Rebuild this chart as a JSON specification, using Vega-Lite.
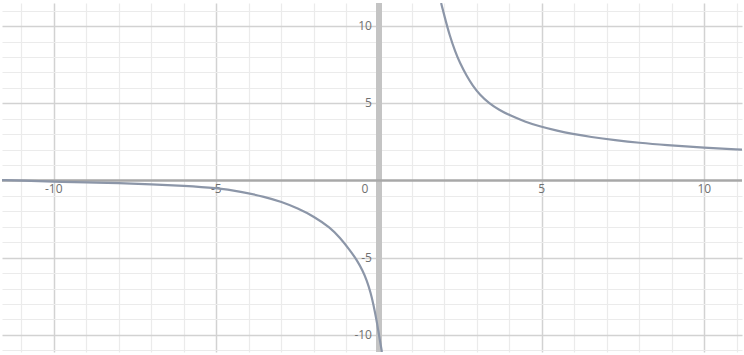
{
  "$schema": "https://vega.github.io/schema/vega-lite/v6.json",
  "width": 744,
  "height": 355,
  "autosize": {"type": "fit", "contains": "padding"},
  "padding": 0,
  "background": "white",
  "config": {"view": {"stroke": null}},
  "datasets": {
    "curve": [
      {"branch": "L", "x": -11.59, "y": 0.03},
      {"branch": "L", "x": -11.0, "y": -0.01},
      {"branch": "L", "x": -10.0, "y": -0.07},
      {"branch": "L", "x": -9.0, "y": -0.12},
      {"branch": "L", "x": -8.0, "y": -0.17},
      {"branch": "L", "x": -7.0, "y": -0.24},
      {"branch": "L", "x": -6.0, "y": -0.34},
      {"branch": "L", "x": -5.0, "y": -0.48},
      {"branch": "L", "x": -4.25, "y": -0.72},
      {"branch": "L", "x": -3.5, "y": -1.06},
      {"branch": "L", "x": -3.0, "y": -1.38},
      {"branch": "L", "x": -2.5, "y": -1.8},
      {"branch": "L", "x": -2.0, "y": -2.33},
      {"branch": "L", "x": -1.5, "y": -3.05},
      {"branch": "L", "x": -1.2, "y": -3.7},
      {"branch": "L", "x": -0.9, "y": -4.5},
      {"branch": "L", "x": -0.68, "y": -5.15},
      {"branch": "L", "x": -0.5, "y": -5.85},
      {"branch": "L", "x": -0.38, "y": -6.45},
      {"branch": "L", "x": -0.25, "y": -7.3},
      {"branch": "L", "x": -0.17, "y": -8.05},
      {"branch": "L", "x": -0.08, "y": -9.0},
      {"branch": "L", "x": -0.02, "y": -9.75},
      {"branch": "L", "x": 0.04, "y": -10.5},
      {"branch": "L", "x": 0.09, "y": -11.11},
      {"branch": "R", "x": 1.91, "y": 11.5},
      {"branch": "R", "x": 2.0, "y": 10.75},
      {"branch": "R", "x": 2.17, "y": 9.4},
      {"branch": "R", "x": 2.35, "y": 8.3},
      {"branch": "R", "x": 2.48, "y": 7.65},
      {"branch": "R", "x": 2.7, "y": 6.75},
      {"branch": "R", "x": 2.88, "y": 6.15},
      {"branch": "R", "x": 3.1, "y": 5.55},
      {"branch": "R", "x": 3.39, "y": 5.0},
      {"branch": "R", "x": 3.7, "y": 4.57},
      {"branch": "R", "x": 4.0, "y": 4.24},
      {"branch": "R", "x": 4.5, "y": 3.8},
      {"branch": "R", "x": 4.92, "y": 3.52},
      {"branch": "R", "x": 5.5, "y": 3.21},
      {"branch": "R", "x": 5.94, "y": 3.02},
      {"branch": "R", "x": 6.5, "y": 2.82},
      {"branch": "R", "x": 7.27, "y": 2.61},
      {"branch": "R", "x": 8.0, "y": 2.44},
      {"branch": "R", "x": 8.8, "y": 2.3},
      {"branch": "R", "x": 10.0, "y": 2.13},
      {"branch": "R", "x": 11.16, "y": 2.0}
    ],
    "axes": [
      {"axis": "x", "v": 0},
      {"axis": "y", "v": 0}
    ],
    "xlabels": [
      {"x": -10, "y": 0, "label": "-10"},
      {"x": -5, "y": 0, "label": "-5"},
      {"x": 5, "y": 0, "label": "5"},
      {"x": 10, "y": 0, "label": "10"}
    ],
    "ylabels": [
      {"x": 0, "y": 10, "label": "10"},
      {"x": 0, "y": 5, "label": "5"},
      {"x": 0, "y": -5, "label": "-5"},
      {"x": 0, "y": -10, "label": "-10"}
    ],
    "zlabel": [
      {"x": 0, "y": 0, "label": "0"}
    ]
  },
  "encoding": {
    "x": {
      "field": "x", "type": "quantitative",
      "scale": {"domain": [-11.59, 11.16], "nice": false, "zero": false},
      "axis": {
        "title": null, "labels": false, "ticks": false, "domain": false,
        "values": [-11,-10,-9,-8,-7,-6,-5,-4,-3,-2,-1,1,2,3,4,5,6,7,8,9,10,11],
        "gridColor": {"condition": {"test": "datum.value % 5 === 0", "value": "#d2d2d2"}, "value": "#ebebeb"},
        "gridWidth": {"condition": {"test": "datum.value % 5 === 0", "value": 1.5}, "value": 1.2}
      }
    },
    "y": {
      "field": "y", "type": "quantitative",
      "scale": {"domain": [-11.11, 11.5], "nice": false, "zero": false},
      "axis": {
        "title": null, "labels": false, "ticks": false, "domain": false,
        "values": [-11,-10,-9,-8,-7,-6,-5,-4,-3,-2,-1,1,2,3,4,5,6,7,8,9,10,11],
        "gridColor": {"condition": {"test": "datum.value % 5 === 0", "value": "#d2d2d2"}, "value": "#ebebeb"},
        "gridWidth": {"condition": {"test": "datum.value % 5 === 0", "value": 1.5}, "value": 1.2}
      }
    }
  },
  "layer": [
    {
      "data": {"name": "axes"},
      "transform": [{"filter": "datum.axis === 'y'"}],
      "mark": {"type": "rule", "color": "#c4c4c4", "strokeWidth": 6},
      "encoding": {"x": {"field": "v", "type": "quantitative"}, "y": null}
    },
    {
      "data": {"name": "axes"},
      "transform": [{"filter": "datum.axis === 'x'"}],
      "mark": {"type": "rule", "color": "#a8a8a8", "strokeWidth": 2.5},
      "encoding": {"y": {"field": "v", "type": "quantitative"}, "x": null}
    },
    {
      "data": {"name": "xlabels"},
      "mark": {"type": "text", "align": "center", "baseline": "middle", "dy": 8, "fontSize": 12, "font": "Open Sans", "color": "#707070"},
      "encoding": {"text": {"field": "label"}}
    },
    {
      "data": {"name": "ylabels"},
      "mark": {"type": "text", "align": "right", "baseline": "middle", "dx": -7, "fontSize": 12, "font": "Open Sans", "color": "#707070"},
      "encoding": {"text": {"field": "label"}}
    },
    {
      "data": {"name": "zlabel"},
      "mark": {"type": "text", "align": "center", "baseline": "middle", "dx": -14, "dy": 8, "fontSize": 12, "font": "Open Sans", "color": "#707070"},
      "encoding": {"text": {"field": "label"}}
    },
    {
      "data": {"name": "curve"},
      "mark": {"type": "line", "clip": true, "interpolate": "basis", "color": "#8c96a8", "strokeWidth": 2.2},
      "encoding": {"detail": {"field": "branch"}}
    }
  ]
}
